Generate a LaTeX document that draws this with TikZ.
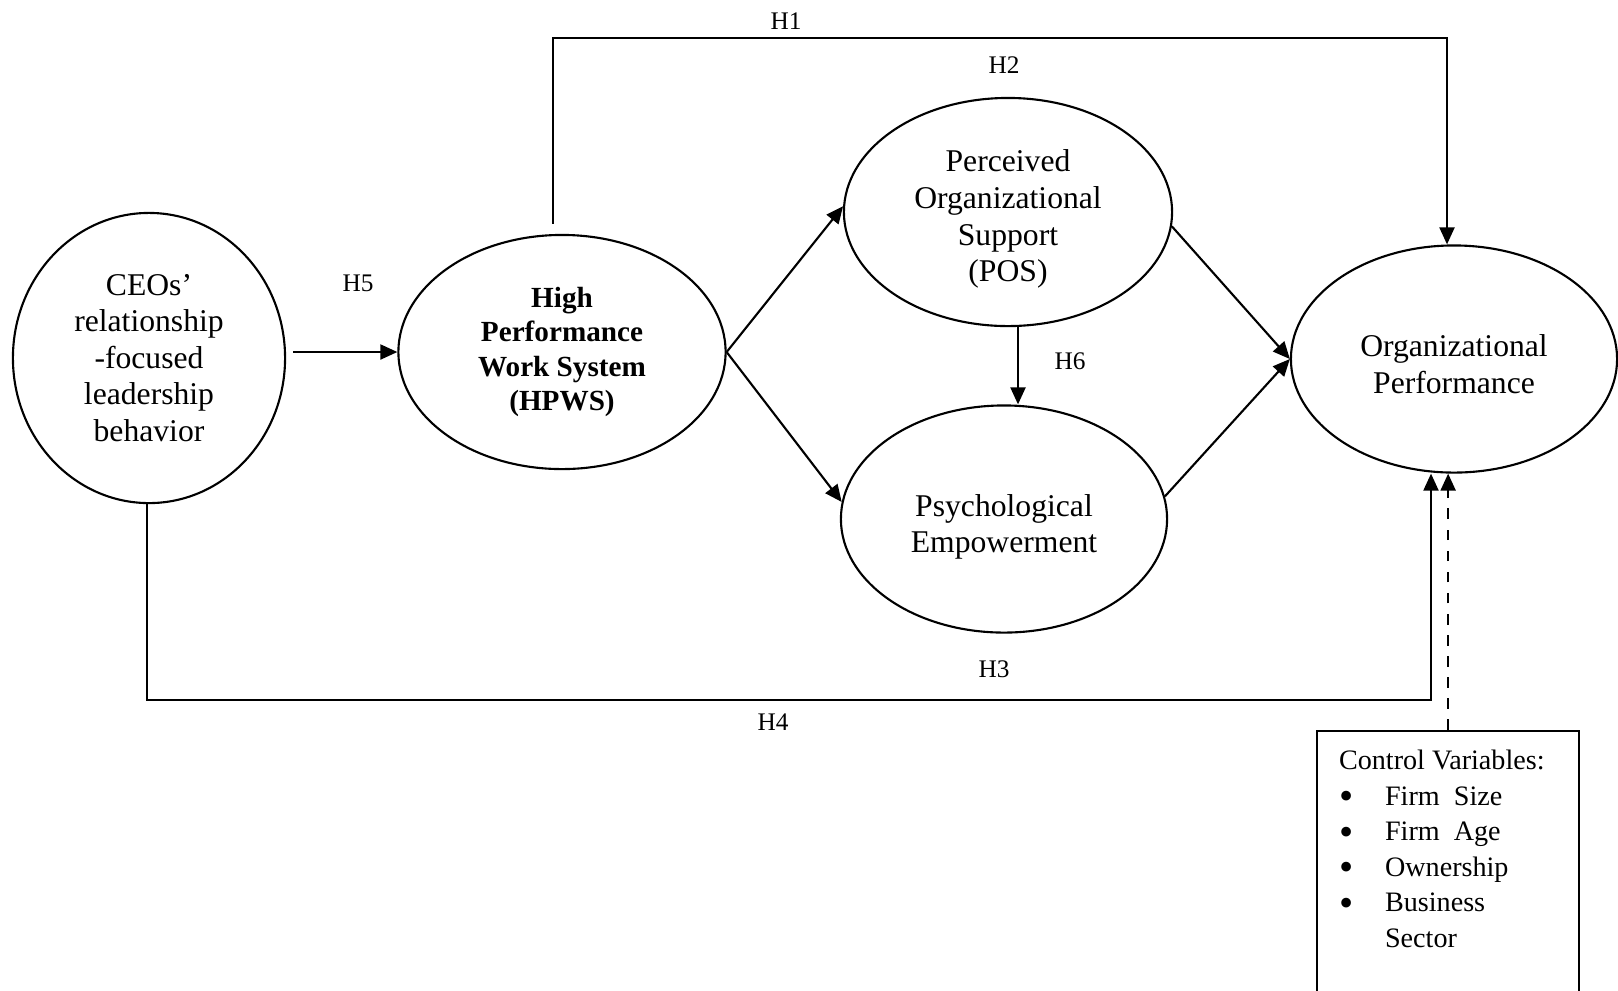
\documentclass[tikz,border=0pt]{standalone}
\usepackage{fontspec}
\setmainfont{Liberation Serif}
\usetikzlibrary{arrows.meta,shapes.geometric,positioning,calc}
\newcommand{\ctrlitem}{\makebox[0.46cm][l]{\smash{\raisebox{-1.3pt}{\fontsize{11.5}{10}\selectfont\textbullet}}}}

\begin{document}
\begin{tikzpicture}[x=0.01cm,y=-0.01cm,line width=0.6pt,
    construct/.style={draw,ellipse,inner sep=0pt,align=center,font=\fontsize{9}{10.4}\selectfont},
    hyp/.style={inner sep=0pt,font=\fontsize{7.2}{8}\selectfont},
    arr/.style={-{Triangle[length=0.17cm,width=0.15cm]}}]
    \useasboundingbox (0,0) rectangle (1618,990);
    \node[construct,minimum width=2.72cm,minimum height=2.9cm] (ceo) at (149,358) {CEOs’\\relationship\\-focused\\leadership\\behavior};
    \node[construct,minimum width=3.27cm,minimum height=2.34cm,font=\fontsize{8.3}{9.7}\selectfont\bfseries] (hpws) at (562,352) {High\\Performance\\Work System\\(HPWS)};
    \node[construct,minimum width=3.28cm,minimum height=2.28cm] (pos) at (1008,212) {\rule{0pt}{10.3pt}Perceived\\Organizational\\Support\\(POS)};
    \node[construct,minimum width=3.26cm,minimum height=2.27cm] (pe) at (1004,519) {\rule{0pt}{10.8pt}Psychological\\Empowerment};
    \node[construct,minimum width=3.26cm,minimum height=2.27cm] (op) at (1454,359) {\rule{0pt}{9.3pt}Organizational\\Performance};
    \node[draw,anchor=north west,minimum width=2.62cm,minimum height=2.75cm] (ctrl) at (1316,730) {};
    \node[anchor=north west,inner sep=0pt,align=left,font=\fontsize{8}{10.1}\selectfont] (ctrltxt) at (1338,749)
      {Control Variables:\\
       \ctrlitem Firm\ \ Size\\
       \ctrlitem Firm\ \ Age\\
       \ctrlitem Ownership\\
       \ctrlitem Business\\
       \makebox[0.46cm][l]{}Sector};
    \draw[arr,shorten <=0.07cm] (ceo.east |- hpws.west) -- (hpws.west);
    \draw[arr] ($(hpws.north)+(-9,-10)$) -- ++(0,-186) -| ($(op.north)+(-7,0)$);
    \draw[arr] (hpws.east) -- (pos.178);
    \draw[arr] (hpws.east) -- (pe.174);
    \coordinate (h6top) at ($(pos.south)+(10,0)$);
    \draw[arr] (h6top) -- (h6top |- pe.north);
    \draw[arr] (pos.-5) -- (op.west);
    \draw[arr] (pe.8) -- (op.west);
    \draw[arr] ($(ceo.south)+(-2,0)$) -- ++(0,196) -| ($(op.south)+(-23,0)$);
    \draw[arr,dashed] (ctrl.north) -- (ctrl.north |- op.south);
    \node[hyp] (h1) at (786,21) {H1};
    \node[hyp] (h2) at (1004,65) {H2};
    \node[hyp] (h3) at (994,669) {H3};
    \node[hyp] (h4) at (773,722) {H4};
    \node[hyp] (h5) at (358,283) {H5};
    \node[hyp] (h6) at (1070,361) {H6};
\end{tikzpicture}
\end{document}
